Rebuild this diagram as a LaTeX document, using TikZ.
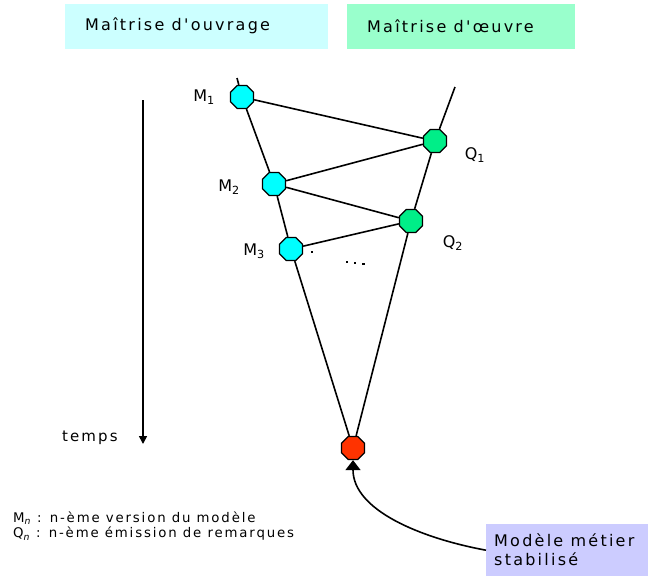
\documentclass[tikz,border=0pt]{standalone}
\usepackage{fontspec}
\setmainfont{DejaVu Sans}
\newfontfamily\pixfont[LetterSpace=14]{DejaVu Sans}
\usetikzlibrary{shapes.geometric,arrows.meta}
\definecolor{moacol}{HTML}{CCFFFF}
\definecolor{moecol}{HTML}{99FFCC}
\definecolor{mcol}{HTML}{00FFFF}
\definecolor{qcol}{HTML}{00EE88}
\definecolor{rcol}{HTML}{FF3300}
\definecolor{boxcol}{HTML}{CCCCFF}
\tikzset{
  oct/.style={regular polygon, regular polygon sides=8, draw=black, line width=1.2pt, minimum size=25pt, inner sep=0pt},
  mnode/.style={oct, fill=mcol},
  qnode/.style={oct, fill=qcol},
  rnode/.style={oct, fill=rcol},
  lbl/.style={font=\pixfont\fontsize{15}{17}\selectfont, inner sep=0pt},
  legtext/.style={font=\pixfont\fontsize{13.3}{15}\selectfont, inner sep=0pt, anchor=west},
  tag/.style={font=\pixfont\fontsize{16}{18}\selectfont, inner sep=0pt},
  hdr/.style={font=\pixfont\fontsize{16}{18}\selectfont, anchor=west, inner sep=0pt},
  link/.style={line width=1.6pt, black},
}
\begin{document}
\begin{tikzpicture}[x=1pt,y=-1pt]
\useasboundingbox (0,0) rectangle (653,576);
% headers
\fill[moacol] (65,4) rectangle (328,49);
\fill[moecol] (347,4) rectangle (575,49);
\node[hdr] (hmoa) at (85,26) {Maîtrise d'ouvrage};
\node[hdr] (hmoe) at (367,26) {Maîtrise d'œuvre};
% guide ends
\coordinate (ltop) at (237,78);
\coordinate (rtop) at (455,87);
% nodes
\node[mnode] (m1) at (242,97) {};
\node[qnode] (q1) at (435,141) {};
\node[mnode] (m2) at (274,184) {};
\node[qnode] (q2) at (411,221) {};
\node[mnode] (m3) at (291,249) {};
\node[rnode] (r) at (353,448) {};
% main lines
\draw[link] (ltop) -- (m1) -- (m2) -- (m3) -- (r);
\draw[link] (rtop) -- (q1) -- (q2) -- (r);
\draw[link] (m1) -- (q1) -- (m2) -- (q2) -- (m3);
% dots
\fill (311,251) rectangle (313,253);
\fill (346,261) rectangle (348,263);
\fill (354,262) rectangle (356,264);
\fill (362,263) rectangle (365,265);
% labels
\node[tag] (lm1) at (204,97) {M\textsubscript{1}};
\node[tag] (lq1) at (475,155) {Q\textsubscript{1}};
\node[tag] (lm2) at (229,187) {M\textsubscript{2}};
\node[tag] (lq2) at (453,243) {Q\textsubscript{2}};
\node[tag] (lm3) at (254,251) {M\textsubscript{3}};
% time
\coordinate (ttop) at (143,100);
\coordinate (tbot) at (143,444);
\draw[line width=1.6pt, -{Triangle[length=8pt,width=8pt]}] (ttop) -- (tbot);
\node[lbl, anchor=west] (temps) at (62,438) {temps};
% legend
\node[legtext] (leg1) at (13,518) {M\textsubscript{\itshape n} : n-ème version du modèle};
\node[legtext] (leg2) at (13,534) {Q\textsubscript{\itshape n} : n-ème émission de remarques};
% stabilised box
\node[fill=boxcol, anchor=north west, minimum width=162pt, minimum height=52pt, inner sep=0pt] (stab) at (486,524) {};
\node[tag, anchor=west, align=left] (stabt) at (494,550) {Modèle métier\\[1pt]stabilisé};
\draw[line width=1.6pt, -{Triangle[length=10pt,width=15pt]}] (stab.west) .. controls (420,538) and (353,510) .. (r.south);
\end{tikzpicture}
\end{document}
